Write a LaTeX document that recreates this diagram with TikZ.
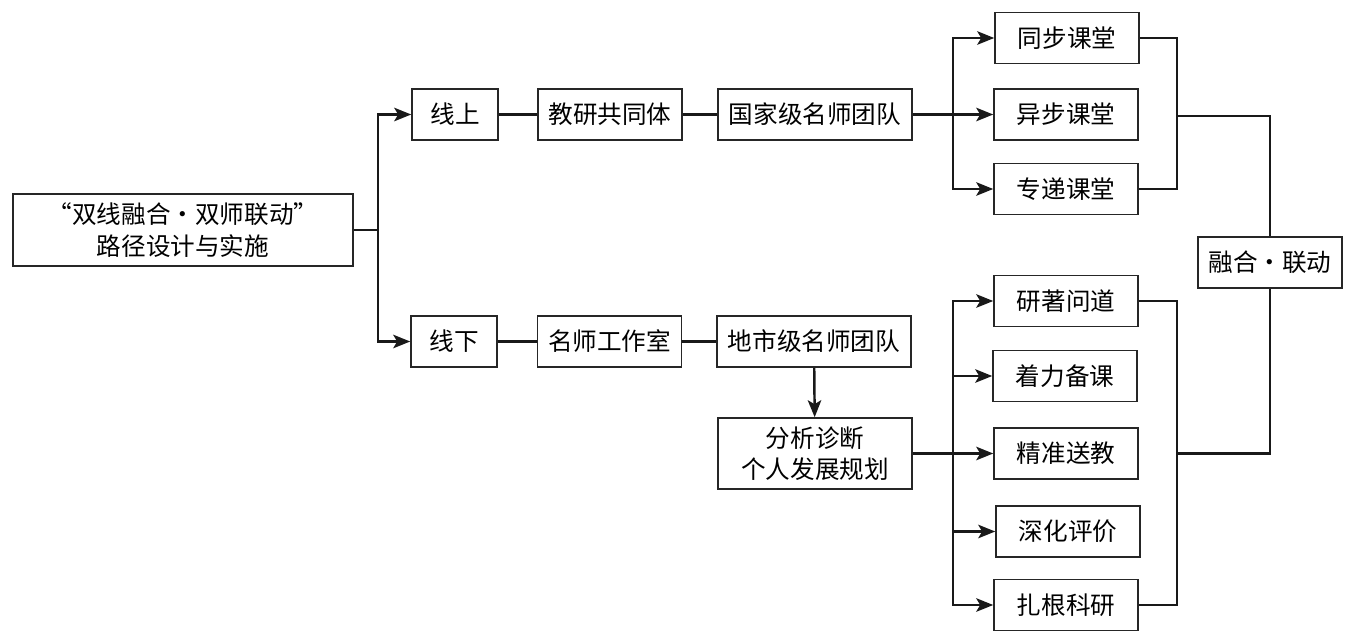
\documentclass[tikz,border=0pt]{standalone}
\usepackage{fontspec}
\newfontfamily\cjkfont{Noto Sans CJK SC}
\usetikzlibrary{arrows.meta,calc}

\tikzset{
  box/.style={draw=black!85,line width=0.9pt,font=\cjkfont\fontsize{14}{18}\selectfont,minimum width=2.88cm,minimum height=1.02cm,inner sep=2pt,align=center},
  link/.style={line width=1.4pt,black!90},
  arr/.style={link,-{Stealth[length=0.34cm,width=0.27cm,inset=0.08cm]}},
}

\begin{document}
\begin{tikzpicture}[x=0.02cm,y=-0.02cm]
\useasboundingbox (0,0) rectangle (1350,636);
% left part
\node[box,minimum width=6.8cm,minimum height=1.44cm](root)at(183,230){“双线融合・双师联动”\\路径设计与实施};
\node[box,minimum width=1.72cm](on)at(455,114.5){线上};
\node[box,minimum width=1.72cm](off)at(454,341.5){线下};
\node[box](jy)at(610,114.5){教研共同体};
\node[box](ms)at(609.5,341.5){名师工作室};
\node[box,minimum width=3.88cm](gj)at(815,114.5){国家级名师团队};
\node[box,minimum width=3.88cm](ds)at(814,341.5){地市级名师团队};
\node[box,minimum width=3.88cm,minimum height=1.42cm](fx)at(815,453.5){分析诊断\\个人发展规划};
% right part
\node[box](tb)at(1067,38){同步课堂};
\node[box](yb)at(1066,114.5){异步课堂};
\node[box](zd)at(1066,189){专递课堂};
\node[box](rh)at(1270,262.5){融合・联动};
\node[box](yz)at(1066,301){研著问道};
\node[box](zl)at(1065,376){着力备课};
\node[box](jz)at(1066,453.5){精准送教};
\node[box](sh)at(1068,531.5){深化评价};
\node[box](zg)at(1066,605){扎根科研};

\coordinate(f1)at(378,230);
\coordinate(f2)at(953,114.5);
\coordinate(f3)at(953,453.5);
\coordinate(m1)at(1177,116);
\coordinate(m2)at(1177,453.5);

\draw[link](root.east)--(f1);
\draw[arr](f1)|-(on.west);
\draw[arr](f1)|-(off.west);
\draw[link](on)--(jy)--(gj);
\draw[link](off)--(ms)--(ds);
\draw[link](gj.east)--(f2);
\foreach \n in {tb,yb,zd} \draw[arr](f2)|-(\n.west);
\draw[link](tb.east)-|(m1)|-(zd.east);
\draw[link](m1)-|(rh.north);
\draw[arr](ds)--(fx);
\draw[link](fx.east)--(f3);
\foreach \n in {yz,zl,jz,sh,zg} \draw[arr](f3)|-(\n.west);
\draw[link](yz.east)-|(m2)|-(zg.east);
\draw[link](m2)-|(rh.south);
\end{tikzpicture}
\end{document}
